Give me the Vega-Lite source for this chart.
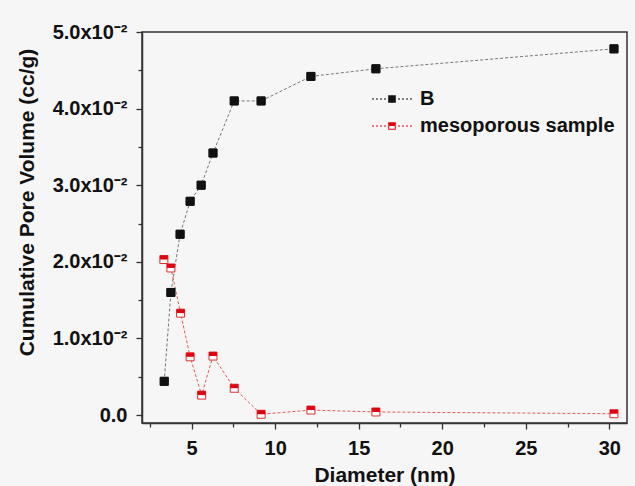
{
  "$schema": "https://vega.github.io/schema/vega-lite/v6.json",
  "autosize": "none",
  "width": 485,
  "height": 391,
  "padding": {"left": 142, "top": 32, "right": 8, "bottom": 63},
  "background": "#f6f6f6",
  "config": {
    "font": "Liberation Sans",
    "view": {"stroke": "#333333", "strokeWidth": 1.5, "fill": "#f6f6f6"},
    "axis": {
      "domainColor": "#333333",
      "domainWidth": 1.5,
      "tickColor": "#333333",
      "tickWidth": 1.3,
      "grid": false,
      "labelFont": "Liberation Sans",
      "labelFontWeight": "bold",
      "labelColor": "#111111",
      "titleFont": "Liberation Sans",
      "titleFontWeight": "bold",
      "titleColor": "#111111"
    }
  },
  "data": {
    "values": [
      {"series": "B", "d": 3.36, "v": 0.0044},
      {"series": "B", "d": 3.76, "v": 0.0160},
      {"series": "B", "d": 4.31, "v": 0.0236},
      {"series": "B", "d": 4.91, "v": 0.0279},
      {"series": "B", "d": 5.57, "v": 0.0300},
      {"series": "B", "d": 6.28, "v": 0.0342},
      {"series": "B", "d": 7.55, "v": 0.0410},
      {"series": "B", "d": 9.16, "v": 0.0410},
      {"series": "B", "d": 12.14, "v": 0.0442},
      {"series": "B", "d": 16.03, "v": 0.0452},
      {"series": "B", "d": 30.28, "v": 0.0478},
      {"series": "mesoporous sample", "d": 3.34, "v": 0.0203},
      {"series": "mesoporous sample", "d": 3.76, "v": 0.0192},
      {"series": "mesoporous sample", "d": 4.34, "v": 0.0133},
      {"series": "mesoporous sample", "d": 4.91, "v": 0.0076},
      {"series": "mesoporous sample", "d": 5.60, "v": 0.0026},
      {"series": "mesoporous sample", "d": 6.28, "v": 0.0077},
      {"series": "mesoporous sample", "d": 7.55, "v": 0.0035},
      {"series": "mesoporous sample", "d": 9.16, "v": 0.0001},
      {"series": "mesoporous sample", "d": 12.14, "v": 0.00065},
      {"series": "mesoporous sample", "d": 16.03, "v": 0.0004},
      {"series": "mesoporous sample", "d": 30.28, "v": 0.00017}
    ]
  },
  "encoding": {
    "x": {
      "field": "d", "type": "quantitative",
      "scale": {"domain": [2.03, 31.06], "nice": false, "zero": false},
      "axis": {
        "title": "Diameter (nm)",
        "titleFontSize": 21,
        "titleY": 41,
        "titleBaseline": "top",
        "values": [2.5, 5, 7.5, 10, 12.5, 15, 17.5, 20, 22.5, 25, 27.5, 30],
        "labelExpr": "datum.value % 5 == 0 ? format(datum.value, 'd') : ''",
        "labelFontSize": 20,
        "labelPadding": 9,
        "tickSize": {"condition": {"test": "datum.value % 5 != 0", "value": 4}, "value": 6}
      }
    },
    "y": {
      "field": "v", "type": "quantitative",
      "scale": {"domain": [-0.00104, 0.05], "nice": false, "zero": false},
      "axis": {
        "title": "Cumulative Pore Volume (cc/g)",
        "titleFontSize": 21,
        "titleX": -105,
        "titleY": 170,
        "values": [0, 0.005, 0.01, 0.015, 0.02, 0.025, 0.03, 0.035, 0.04, 0.045, 0.05],
        "labelExpr": "abs(datum.value*100 - round(datum.value*100)) > 0.01 ? '' : (datum.value == 0 ? '0.0' : format(datum.value*100, '.1f') + 'x10⁻²')",
        "labelFontSize": 20,
        "labelPadding": 9,
        "tickSize": {"condition": {"test": "abs(datum.value*100 - round(datum.value*100)) > 0.01", "value": 4}, "value": 6}
      }
    }
  },
  "layer": [
    {
      "mark": {"type": "line", "strokeDash": [3, 2], "strokeWidth": 0.8},
      "encoding": {
        "stroke": {
          "field": "series", "type": "nominal",
          "scale": {"domain": ["mesoporous sample", "B"], "range": ["#e03030", "#555555"]},
          "legend": null
        }
      }
    },
    {
      "mark": {"type": "point", "shape": "square", "size": 64, "filled": false, "strokeWidth": 1, "opacity": 1},
      "encoding": {
        "fill": {
          "field": "series", "type": "nominal",
          "scale": {"domain": ["mesoporous sample", "B"], "range": ["#ffffff", "#111111"]},
          "legend": null
        },
        "stroke": {
          "field": "series", "type": "nominal",
          "legend": null
        }
      }
    },
    {
      "transform": [{"filter": "datum.series === 'mesoporous sample'"}],
      "mark": {"type": "point", "shape": "M-1,-1H1V0H-1Z", "size": 64, "filled": true, "color": "#e3000f", "opacity": 1, "strokeWidth": 0}
    },
    {
      "transform": [{"filter": "datum.series === 'B'"}],
      "mark": {"type": "point", "shape": "square", "size": 64, "filled": true, "color": "#111111", "opacity": 1, "strokeWidth": 1, "stroke": "#111111"}
    },
    {
      "mark": {"type": "point", "size": 0, "filled": true, "opacity": 1, "strokeWidth": 0},
      "encoding": {
        "color": {
          "field": "series", "type": "nominal",
          "scale": {"domain": ["B", "mesoporous sample"], "range": ["#111111", "#e3000f"]},
          "legend": {
            "title": null,
            "orient": "none",
            "legendX": 240,
            "legendY": 57,
            "padding": 0,
            "symbolSize": 400,
            "symbolStrokeWidth": 0,
            "symbolOpacity": 1,
            "labelOffset": 18,
            "rowPadding": 7,
            "labelFont": "Liberation Sans",
            "labelFontSize": 20,
            "labelFontWeight": "bold",
            "labelColor": "#111111",
            "labelLimit": 400
          }
        },
        "shape": {
          "field": "series", "type": "nominal",
          "scale": {
            "domain": ["B", "mesoporous sample"],
            "range": [
              "M-2,-0.06H-1.8V0.06H-2ZM-1.6,-0.06H-1.4V0.06H-1.6ZM-1.2,-0.06H-1V0.06H-1.2ZM-0.8,-0.06H-0.6V0.06H-0.8ZM0.6,-0.06H0.8V0.06H0.6ZM1,-0.06H1.2V0.06H1ZM1.4,-0.06H1.6V0.06H1.4ZM1.8,-0.06H2V0.06H1.8ZM-0.38,-0.38H0.38V0.38H-0.38Z",
              "M-2,-0.06H-1.8V0.06H-2ZM-1.6,-0.06H-1.4V0.06H-1.6ZM-1.2,-0.06H-1V0.06H-1.2ZM-0.8,-0.06H-0.6V0.06H-0.8ZM0.6,-0.06H0.8V0.06H0.6ZM1,-0.06H1.2V0.06H1ZM1.4,-0.06H1.6V0.06H1.4ZM1.8,-0.06H2V0.06H1.8ZM-0.38,-0.38H0.38V0H-0.38ZM-0.38,0H-0.28V0.38H-0.38ZM0.28,0H0.38V0.38H0.28ZM-0.38,0.28H0.38V0.38H-0.38Z"
            ]
          },
          "legend": {
            "title": null,
            "orient": "none",
            "legendX": 240,
            "legendY": 57,
            "padding": 0,
            "symbolSize": 400,
            "symbolStrokeWidth": 0,
            "symbolOpacity": 1,
            "labelOffset": 18,
            "rowPadding": 7,
            "labelFont": "Liberation Sans",
            "labelFontSize": 20,
            "labelFontWeight": "bold",
            "labelColor": "#111111",
            "labelLimit": 400
          }
        }
      }
    }
  ]
}
